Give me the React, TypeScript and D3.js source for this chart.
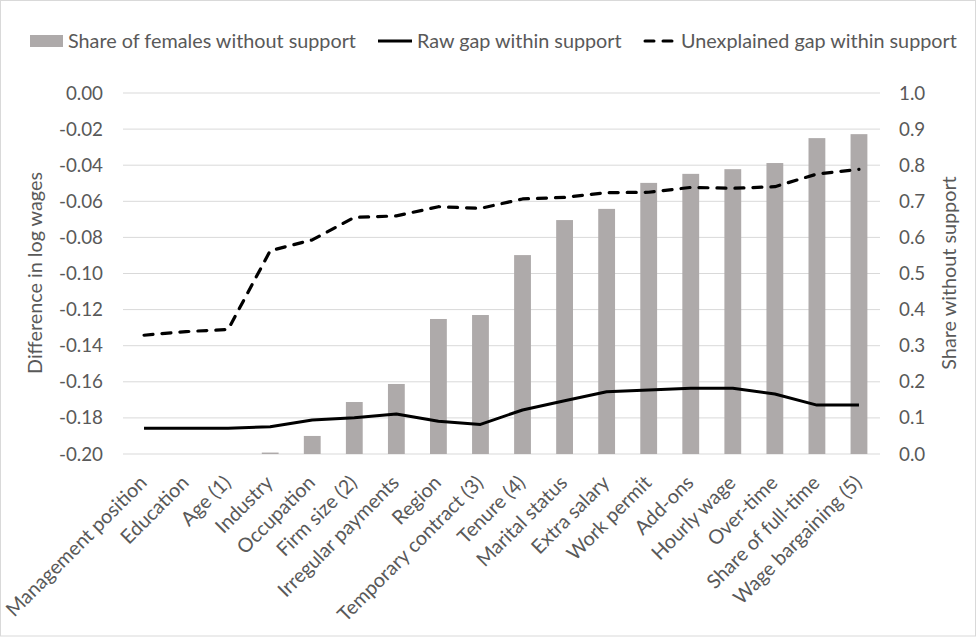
import React from 'react';
import * as d3 from 'd3';

const categories = [
  'Management position', 'Education', 'Age (1)', 'Industry', 'Occupation',
  'Firm size (2)', 'Irregular payments', 'Region', 'Temporary contract (3)',
  'Tenure (4)', 'Marital status', 'Extra salary', 'Work permit', 'Add-ons',
  'Hourly wage', 'Over-time', 'Share of full-time', 'Wage bargaining (5)',
];

// share of females without support (right axis)
const shareWithout = [
  0, 0, 0, 0.004, 0.05, 0.144, 0.194, 0.374, 0.385,
  0.551, 0.648, 0.679, 0.751, 0.776, 0.789, 0.806, 0.875, 0.886,
];

// raw gap within support (left axis)
const rawGap = [
  -0.1858, -0.1858, -0.1858, -0.1849, -0.1812, -0.1799, -0.1778, -0.1819, -0.1836,
  -0.1756, -0.1705, -0.1655, -0.1645, -0.1636, -0.1636, -0.1668, -0.1729, -0.1729,
];

// unexplained gap within support (left axis)
const unexplainedGap = [
  -0.1342, -0.1322, -0.131, -0.0874, -0.0814, -0.0689, -0.0681, -0.063, -0.0639,
  -0.0587, -0.0578, -0.0552, -0.055, -0.0523, -0.0528, -0.0519, -0.0449, -0.0423,
];

const leftTicks = [0, -0.02, -0.04, -0.06, -0.08, -0.1, -0.12, -0.14, -0.16, -0.18, -0.2];
const rightTicks = [0, 0.1, 0.2, 0.3, 0.4, 0.5, 0.6, 0.7, 0.8, 0.9, 1.0];

const W = 979;
const H = 637;
const FONT = 'Lato, "Liberation Sans", sans-serif';
const TEXT = '#595959';
const LABEL_SIZE = 19.8;
const TICK_SIZE = 18.8;

const App: React.FC = () => {
  const x = d3.scaleBand<string>().domain(categories).range([123, 880]);
  const yLeft = d3.scaleLinear().domain([-0.2, 0]).range([454, 93]);
  const yRight = d3.scaleLinear().domain([0, 1]).range([454, 93]);
  const bw = x.bandwidth();
  const cx = (c: string) => (x(c) as number) + bw / 2;

  const line = d3.line<number>()
    .x((_, i) => cx(categories[i]))
    .y((d) => yLeft(d));

  return (
    <div style={{ position: 'absolute', left: 0, top: 0 }}>
      <svg width={W} height={H} style={{ display: 'block', fontFamily: FONT }}>
        <rect x={0.5} y={0.5} width={W - 4} height={H - 1.5} fill="#fff" stroke="#D9D9D9" />

        {/* gridlines */}
        {leftTicks.map((t) => (
          <line key={t} x1={123} x2={880} y1={yLeft(t)} y2={yLeft(t)} stroke="#D9D9D9" strokeWidth={1} />
        ))}

        {/* bars */}
        {shareWithout.map((v, i) => (
          <rect
            key={categories[i]}
            x={cx(categories[i]) - bw * 0.2}
            width={bw * 0.4}
            y={yRight(v)}
            height={yRight(0) - yRight(v)}
            fill="#AEAAAA"
          />
        ))}

        {/* lines */}
        <path d={line(rawGap) || ''} fill="none" stroke="#000" strokeWidth={3} strokeLinejoin="round" />
        <path
          d={line(unexplainedGap) || ''}
          fill="none"
          stroke="#000"
          strokeWidth={3.2}
          strokeDasharray="9 9"
          strokeLinecap="round"
          strokeLinejoin="round"
        />

        {/* left axis */}
        {leftTicks.map((t) => (
          <text key={t} x={103} y={yLeft(t)} dy="0.35em" textAnchor="end" fontSize={TICK_SIZE} fill={TEXT}>
            {t === 0 ? '0.00' : '-' + Math.abs(t).toFixed(2)}
          </text>
        ))}
        <text transform="translate(42,273) rotate(-90)" textAnchor="middle" fontSize={LABEL_SIZE} fill={TEXT}>
          Difference in log wages
        </text>

        {/* right axis */}
        {rightTicks.map((t) => (
          <text key={t} x={899} y={yRight(t)} dy="0.35em" textAnchor="start" fontSize={TICK_SIZE} fill={TEXT}>
            {t.toFixed(1)}
          </text>
        ))}
        <text transform="translate(956,273) rotate(-90)" textAnchor="middle" fontSize={LABEL_SIZE} fill={TEXT}>
          Share without support
        </text>

        {/* category labels */}
        {categories.map((c) => (
          <text
            key={c}
            transform={`translate(${cx(c) + 4},484) rotate(-45)`}
            textAnchor="end"
            fontSize={LABEL_SIZE}
            fill={TEXT}
          >
            {c}
          </text>
        ))}

        {/* legend */}
        <rect x={30} y={35} width={33} height={12} fill="#AEAAAA" />
        <text x={68} y={41} dy="0.35em" fontSize={LABEL_SIZE} fill={TEXT}>Share of females without support</text>
        <line x1={378} x2={412} y1={41} y2={41} stroke="#000" strokeWidth={3} />
        <text x={417} y={41} dy="0.35em" fontSize={LABEL_SIZE} fill={TEXT}>Raw gap within support</text>
        <line x1={645} x2={675} y1={41} y2={41} stroke="#000" strokeWidth={3} strokeDasharray="9 9" strokeLinecap="round" />
        <text x={681} y={41} dy="0.35em" fontSize={LABEL_SIZE} fill={TEXT}>Unexplained gap within support</text>
      </svg>
    </div>
  );
};

export default App;
